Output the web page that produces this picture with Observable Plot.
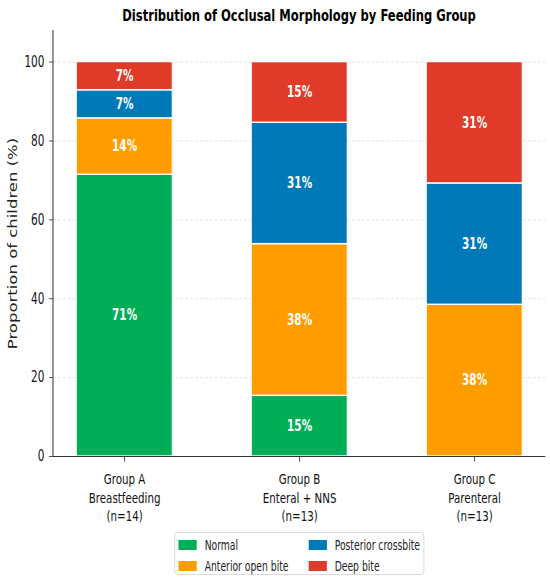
<!DOCTYPE html>
<html><head><meta charset="utf-8">
<script src="https://cdn.jsdelivr.net/npm/d3@7"></script>
<script src="https://cdn.jsdelivr.net/npm/@observablehq/plot@0.6"></script>
<style>
html,body{margin:0;padding:0;background:#fff;overflow:hidden;}
#outer{position:relative;width:550px;height:577px;overflow:hidden;}
#wrap{position:absolute;left:0;top:0;width:786px;height:577px;transform:scaleX(0.7);transform-origin:0 0;font-family:"DejaVu Sans",sans-serif;}
#title{position:absolute;top:0;left:75.7px;width:703px;height:30px;line-height:31px;text-align:center;font-weight:bold;font-size:16.5px;color:#000;white-space:nowrap;}
#chart{position:absolute;top:30px;left:0;}
#legend{position:absolute;left:248.6px;top:532px;width:357px;height:43px;border:1px solid #d4d4d4;border-radius:4px;box-sizing:border-box;font-size:13.2px;color:#222;}
.item{position:absolute;display:flex;align-items:center;height:16px;white-space:nowrap;}
.sw{width:25.7px;height:9.5px;margin-right:11.4px;}
</style></head>
<body><div id="outer"><div id="wrap"><div id="title">Distribution of Occlusal Morphology by Feeding Group</div><div id="chart"></div><div id="legend"></div></div></div>
<script>
const groups = ["Group A\nBreastfeeding\n(n=14)", "Group B\nEnteral + NNS\n(n=13)", "Group C\nParenteral\n(n=13)"];
const categories = ["Normal", "Anterior open bite", "Posterior crossbite", "Deep bite"];
const colors = ["#00ae57", "#ff9d00", "#0079b8", "#e03a28"];
const normal = [71.43, 15.38, 0];
const anteriorOpenBite = [14.29, 38.46, 38.46];
const posteriorCrossbite = [7.14, 30.77, 30.77];
const deepBite = [7.14, 15.38, 30.77];
const yTicks = [0, 20, 40, 60, 80, 100];

const series = [normal, anteriorOpenBite, posteriorCrossbite, deepBite];
const data = [];
groups.forEach((g, gi) => categories.forEach((c, ci) => data.push({group: g, cat: c, value: series[ci][gi]})));

const FONT = "'DejaVu Sans',sans-serif";
const H = 500;
const leftSpine = (index, scales, values, dims) => {
  const l = document.createElementNS("http://www.w3.org/2000/svg", "line");
  l.setAttribute("x1", dims.marginLeft); l.setAttribute("x2", dims.marginLeft);
  l.setAttribute("y1", dims.marginTop); l.setAttribute("y2", dims.height - dims.marginBottom);
  l.setAttribute("stroke", "#333"); l.setAttribute("stroke-width", 1.5);
  return l;
};

const chart = Plot.plot({
  width: 786, height: H,
  marginLeft: 75.7, marginRight: 7, marginTop: 0, marginBottom: H - 426,
  style: {fontFamily: FONT, background: "#fff", overflow: "visible"},
  x: {domain: groups, paddingInner: 0.452, paddingOuter: 0.13, axis: null},
  y: {domain: [0, 108], axis: null},
  color: {domain: categories, range: colors},
  marks: [
    Plot.ruleY(yTicks.slice(1), {stroke: "#d6d6d6", strokeDasharray: "4,3", strokeWidth: 0.8}),
    Plot.barY(data, Plot.stackY({x: "group", y: "value", fill: "cat", z: "cat", order: categories, stroke: "#fff", strokeWidth: 1.4})),
    Plot.text(data, Plot.stackY({x: "group", y: "value", z: "cat", order: categories,
      text: d => d.value > 0 ? Math.round(d.value) + "%" : "",
      fill: "#fff", fontWeight: "bold", fontSize: 15, fontFamily: FONT})),
    Plot.ruleY([0], {stroke: "#333", strokeWidth: 1.2}),
    leftSpine,
    Plot.axisY({ticks: yTicks, tickSize: 5.7, tickPadding: 7, label: null, fontSize: 15, stroke: "#333", color: "#111"}),
    Plot.axisX({tickSize: 5.7, tickPadding: 9, label: null, fontSize: 14.7, lineHeight: 1.26, stroke: "#333", color: "#111"}),
    Plot.text(["Proportion of children (%)"], {frameAnchor: "left", textAnchor: "middle", dx: -57, rotate: -90, fontSize: 16.5, fill: "#222", fontFamily: FONT})
  ]
});
document.getElementById("chart").appendChild(chart);

const leg = document.getElementById("legend");
const pos = [[5.7, 4], [5.7, 25], [191.4, 4], [191.4, 25]];
categories.forEach((c, i) => {
  const it = document.createElement("div");
  it.className = "item";
  it.style.left = pos[i][0] + "px"; it.style.top = pos[i][1] + "px";
  it.innerHTML = `<span class="sw" style="background:${colors[i]}"></span><span>${c}</span>`;
  leg.appendChild(it);
});
</script></body></html>
